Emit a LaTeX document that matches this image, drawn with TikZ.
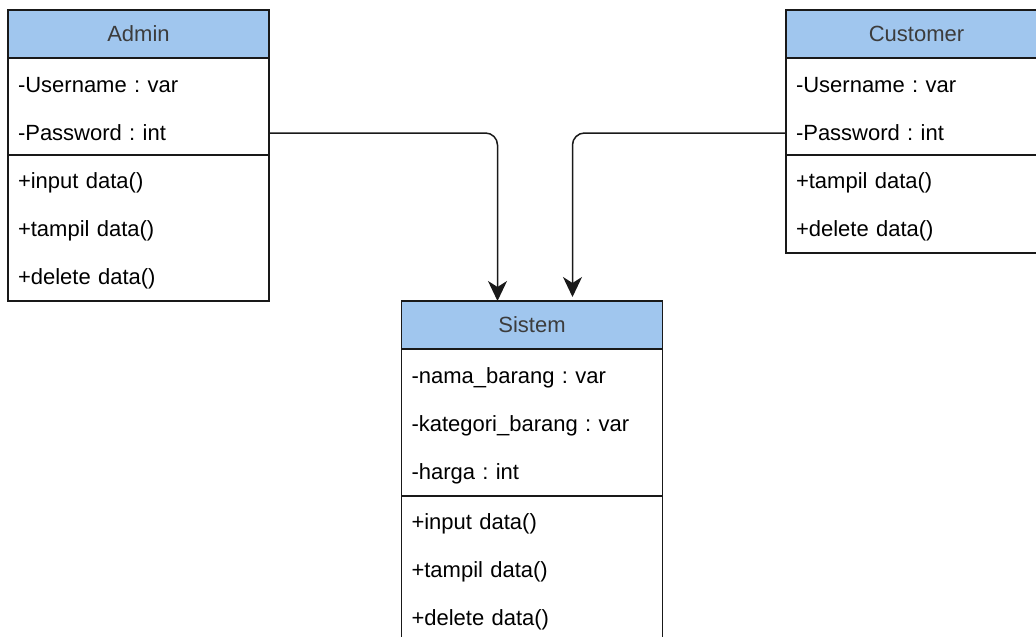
\documentclass[tikz,border=0pt]{standalone}
\usepackage{fontspec}
\setmainfont{Liberation Sans}
\usepackage{xcolor}
\usetikzlibrary{positioning,calc,arrows.meta}

\definecolor{headblue}{RGB}{160,198,238}
\definecolor{headtext}{RGB}{60,60,60}
\definecolor{umlline}{RGB}{25,25,25}
\newcommand{\umlfont}{\frenchspacing\fontsize{22}{26}\selectfont}

\tikzset{
  classhead/.style={draw=umlline, line width=1.4pt, fill=headblue, text=headtext,
    minimum width=261pt, minimum height=48pt, inner sep=0pt, outer sep=0pt, font=\umlfont},
  section/.style={draw=umlline, line width=1.4pt, fill=white,
    minimum width=261pt, inner sep=0pt, outer sep=0pt},
  member/.style={minimum width=261pt, minimum height=48pt, inner sep=0pt, inner xsep=10pt,
    outer sep=0pt, text width=241pt, align=left, text=black, font=\umlfont},
  assoc/.style={draw=umlline, line width=1.5pt, rounded corners=12pt,
    -{Stealth[length=20pt,width=19pt,inset=6pt]}}
}

\begin{document}
\begin{tikzpicture}[x=1pt,y=-1pt]
    \useasboundingbox (0,0) rectangle (1036,637);
    \clip (0,0) rectangle (1036,637);

    % --- class headers
    \node[classhead] (admin)    at (138.5,34) {Admin};
    \node[classhead] (customer) at (916.5,34) {Customer};
    \node[classhead] (sistem)   at (532,325)  {Sistem};

    % --- compartments
    \node[section, minimum height=97pt,  below=0pt of admin]       (admin-attr) {};
    \node[section, minimum height=146pt, below=0pt of admin-attr]  (admin-ops) {};
    \node[section, minimum height=97pt,  below=0pt of customer]    (customer-attr) {};
    \node[section, minimum height=98pt,  below=0pt of customer-attr] (customer-ops) {};
    \node[section, minimum height=147pt, below=0pt of sistem]      (sistem-attr) {};
    \node[section, minimum height=146pt, below=0pt of sistem-attr] (sistem-ops) {};

    % --- members
    \foreach \t [count=\i] in {-Username : var,-Password : int}
      {\node[member,anchor=north] (admin-a\i) at ($(admin-attr.north)+(0,48*\i-45)$) {\t};}
    \foreach \t [count=\i] in {+input data(),+tampil data(),+delete data()}
      {\node[member,anchor=north] (admin-o\i) at ($(admin-ops.north)+(0,48*\i-44)$) {\t};}
    \foreach \t [count=\i] in {-Username : var,-Password : int}
      {\node[member,anchor=north] (customer-a\i) at ($(customer-attr.north)+(0,48*\i-45)$) {\t};}
    \foreach \t [count=\i] in {+tampil data(),+delete data()}
      {\node[member,anchor=north] (customer-o\i) at ($(customer-ops.north)+(0,48*\i-44)$) {\t};}
    \foreach \t [count=\i] in {-nama\_barang : var,-kategori\_barang : var,-harga : int}
      {\node[member,anchor=north] (sistem-a\i) at ($(sistem-attr.north)+(0,48*\i-43)$) {\t};}
    \foreach \t [count=\i] in {+input data(),+tampil data(),+delete data()}
      {\node[member,anchor=north] (sistem-o\i) at ($(sistem-ops.north)+(0,48*\i-44)$) {\t};}

    % --- associations
    \draw[assoc] (admin-a2.east) -| ($(sistem.north west)+(96,0)$);
    \draw[assoc] (customer-a2.west) -| ($(sistem.north west)+(171,-4)$);
\end{tikzpicture}
\end{document}
